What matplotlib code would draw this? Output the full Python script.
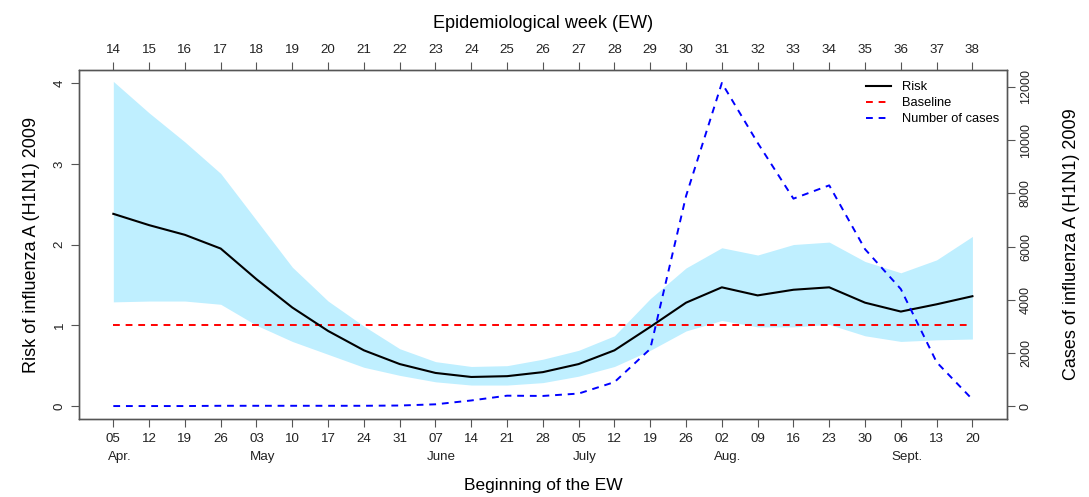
import numpy as np
import matplotlib
matplotlib.use("Agg")
import matplotlib.pyplot as plt
from matplotlib.lines import Line2D
import matplotlib.transforms as mtransforms

plt.rcParams['font.family'] = ['Liberation Sans', 'DejaVu Sans']

# semanas epidemiologicas 14..38 (2009)
semanas = np.arange(14, 39)
dias_inicio = ["05", "12", "19", "26", "03", "10", "17", "24", "31", "07", "14", "21",
               "28", "05", "12", "19", "26", "02", "09", "16", "23", "30", "06", "13", "20"]
meses = ["Apr.", "May", "June", "July", "Aug.", "Sept."]
semana_mes = [14, 18, 23, 27, 31, 36]

riesgo = [2.38, 2.24, 2.12, 1.95, 1.57, 1.22, 0.93, 0.69, 0.52, 0.41, 0.36, 0.37, 0.42,
          0.52, 0.69, 0.98, 1.28, 1.47, 1.37, 1.44, 1.47, 1.28, 1.17, 1.26, 1.36]
riesgo_sup = [4.02, 3.63, 3.27, 2.88, 2.30, 1.72, 1.30, 0.99, 0.71, 0.55, 0.49, 0.50, 0.58,
              0.69, 0.87, 1.33, 1.71, 1.96, 1.87, 2.00, 2.03, 1.79, 1.65, 1.81, 2.10]
riesgo_inf = [1.29, 1.30, 1.30, 1.26, 1.00, 0.80, 0.64, 0.48, 0.38, 0.30, 0.26, 0.26, 0.29,
              0.37, 0.49, 0.69, 0.93, 1.06, 0.98, 0.98, 1.01, 0.87, 0.80, 0.82, 0.83]
linea_base = 1.0
casos = [0, 0, 0, 10, 10, 10, 10, 10, 20, 65, 210, 390, 380, 470, 900, 2150,
         7900, 12150, 9900, 7800, 8300, 5900, 4400, 1650, 250]

fig = plt.figure(figsize=(10.89, 4.97), dpi=100)
ax = fig.add_axes([0.0725, 0.157, 0.852, 0.702])

ax.fill_between(semanas, riesgo_inf, riesgo_sup, color='#BFEFFF', lw=0, zorder=1)
ax.plot(semanas, [linea_base] * len(semanas), color='red', lw=1.4,
        dashes=(3.5, 3), zorder=2)
ax.plot(semanas, riesgo, color='black', lw=1.5, zorder=3)

ax.set_xlim(14 - 0.96, 38 + 0.96)
ax.set_ylim(-0.16, 4.16)
ax.set_yticks([0, 1, 2, 3, 4])
ax.set_xticks(semanas)
ax.set_xticklabels(dias_inicio)
ax.tick_params(axis='both', direction='out', length=6, width=0.8, labelsize=9.6,
               color='#555555', labelcolor='#222222')
ax.tick_params(axis='x', pad=4)
for lab in ax.get_yticklabels():
    lab.set_rotation(90)
    lab.set_va('center')
ax.set_ylabel("Risk of influenza A (H1N1) 2009", fontsize=13, labelpad=10)
ax.set_xlabel("Beginning of the EW", fontsize=12.5, labelpad=24)

# meses debajo de las fechas
trans = mtransforms.blended_transform_factory(ax.transData, ax.transAxes)
for s, m in zip(semana_mes, meses):
    ax.text(s + 0.17, -0.11, m, transform=trans, ha='center', va='center',
            fontsize=9.6, color='#222222')

# eje derecho: numero de casos
ax2 = ax.twinx()
ax2.plot(semanas, casos, color='blue', lw=1.4, dashes=(3.5, 3), zorder=4)
cmax = max(casos)
ax2.set_ylim(-0.04 * cmax, 1.04 * cmax)
ax2.set_yticks(np.arange(0, 12001, 2000))
ax2.tick_params(axis='y', direction='out', length=6, width=0.8, labelsize=9,
                color='#555555', labelcolor='#222222')
for lab in ax2.get_yticklabels():
    lab.set_rotation(90)
    lab.set_va('center')
ax2.set_ylabel("Cases of influenza A (H1N1) 2009", fontsize=13, labelpad=22)

# eje superior: semana epidemiologica
ax3 = ax.twiny()
ax3.set_xlim(ax.get_xlim())
ax3.set_xticks(semanas)
ax3.set_xticklabels([str(s) for s in semanas])
ax3.tick_params(axis='x', direction='out', length=6, width=0.8, labelsize=9.6,
                color='#555555', labelcolor='#222222', pad=4)
ax3.set_xlabel("Epidemiological week (EW)", fontsize=13, labelpad=12)

for a in (ax, ax2, ax3):
    for sp in a.spines.values():
        sp.set_color('#555555')
        sp.set_linewidth(0.9)

leyenda = [Line2D([], [], color='black', lw=1.5),
           Line2D([], [], color='red', lw=1.4, dashes=(3.5, 3)),
           Line2D([], [], color='blue', lw=1.4, dashes=(3.5, 3))]
ax3.legend(leyenda, ["Risk", "Baseline", "Number of cases"], loc='upper right',
           frameon=False, fontsize=9.3, handlelength=2.0, labelspacing=0.3,
           borderaxespad=0.2, bbox_to_anchor=(1.0, 0.99))

fig.savefig("out.png", dpi=100)
